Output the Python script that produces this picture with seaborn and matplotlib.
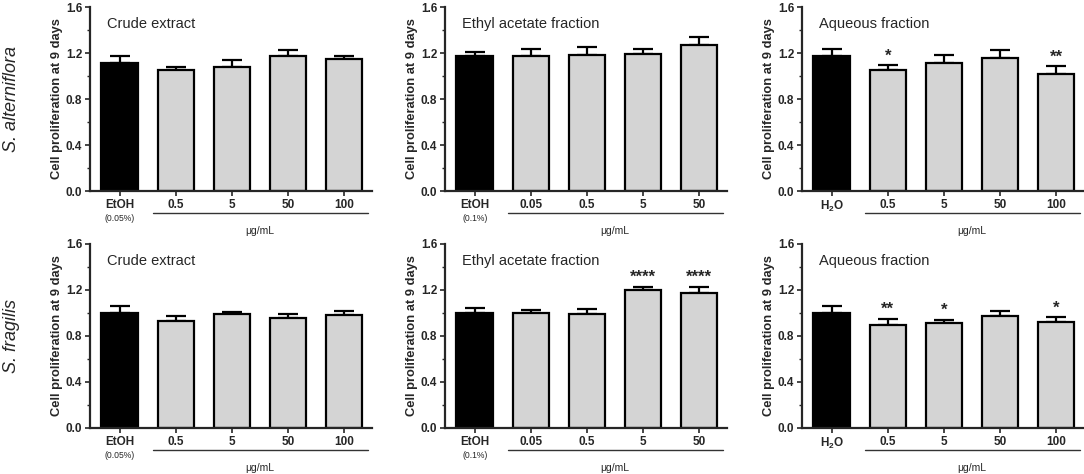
import numpy as np
import pandas as pd
import seaborn as sns
import matplotlib.pyplot as plt
from matplotlib.ticker import MultipleLocator
from matplotlib.transforms import blended_transform_factory

# --- data (mean, SD) ---
species = ["S. alterniflora", "S. fragilis"]
fractions = ["Crude extract", "Ethyl acetate fraction", "Aqueous fraction"]
controls = ["EtOH", "EtOH", "H$_\\mathbf{2}$O"]
control_notes = ["(0.05%)", "(0.1%)", ""]
doses_crude = ["0.5", "5", "50", "100"]
doses_ethyl = ["0.05", "0.5", "5", "50"]
doses_aqueous = ["0.5", "5", "50", "100"]

alt_crude_mean = [1.11, 1.05, 1.08, 1.17, 1.15]
alt_crude_sd = [0.06, 0.025, 0.06, 0.055, 0.025]
alt_ethyl_mean = [1.17, 1.17, 1.18, 1.19, 1.27]
alt_ethyl_sd = [0.035, 0.065, 0.075, 0.045, 0.065]
alt_aqueous_mean = [1.17, 1.05, 1.11, 1.16, 1.02]
alt_aqueous_sd = [0.065, 0.045, 0.07, 0.065, 0.065]

fra_crude_mean = [1.00, 0.93, 0.995, 0.955, 0.98]
fra_crude_sd = [0.065, 0.04, 0.015, 0.04, 0.04]
fra_ethyl_mean = [1.00, 1.00, 0.99, 1.20, 1.175]
fra_ethyl_sd = [0.045, 0.03, 0.045, 0.03, 0.055]
fra_aqueous_mean = [1.00, 0.90, 0.915, 0.97, 0.925]
fra_aqueous_sd = [0.06, 0.05, 0.025, 0.045, 0.04]

alt_aqueous_stars = ["", "*", "", "", "**"]
fra_ethyl_stars = ["", "", "", "****", "****"]
fra_aqueous_stars = ["", "**", "*", "", "*"]
no_stars = ["", "", "", "", ""]

panels = [
    [(alt_crude_mean, alt_crude_sd, doses_crude, no_stars),
     (alt_ethyl_mean, alt_ethyl_sd, doses_ethyl, no_stars),
     (alt_aqueous_mean, alt_aqueous_sd, doses_aqueous, alt_aqueous_stars)],
    [(fra_crude_mean, fra_crude_sd, doses_crude, no_stars),
     (fra_ethyl_mean, fra_ethyl_sd, doses_ethyl, fra_ethyl_stars),
     (fra_aqueous_mean, fra_aqueous_sd, doses_aqueous, fra_aqueous_stars)],
]

sns.set_style("ticks")
plt.rcParams['font.family'] = ['Liberation Sans', 'DejaVu Sans']
plt.rcParams['mathtext.fontset'] = 'custom'
plt.rcParams['mathtext.rm'] = 'Liberation Sans'
plt.rcParams['mathtext.bf'] = 'Liberation Sans:bold'
plt.rcParams['mathtext.it'] = 'Liberation Sans:italic'

fig = plt.figure(figsize=(10.84, 4.74), dpi=100)
fig.patch.set_facecolor('white')

W, H = 1084, 474
lefts = [90, 445, 802]
tops = [7, 244]
ax_w, ax_h = 282, 184

for r in range(2):
    for c in range(3):
        mean, sd, doses, stars = panels[r][c]
        cats = [controls[c]] + doses
        df = pd.DataFrame({'group': cats, 'value': mean})
        colors = ['black'] + ['#d4d4d4'] * len(doses)

        ax = fig.add_axes([lefts[c] / W, 1 - (tops[r] + ax_h) / H, ax_w / W, ax_h / H])
        sns.barplot(data=df, x='group', y='value', hue='group', order=cats,
                    hue_order=cats, palette=colors, legend=False, ax=ax,
                    width=0.65, edgecolor='black', linewidth=1.6, errorbar=None)
        x = np.arange(len(cats))
        ax.errorbar(x, mean, yerr=[np.zeros(len(sd)), sd], fmt='none',
                    ecolor='black', elinewidth=1.6, capsize=7, capthick=1.6, zorder=1)
        for p in ax.patches:
            p.set_zorder(2)

        # stars
        for i, s in enumerate(stars):
            if s:
                ax.text(i, mean[i] + sd[i] + 0.015, s, ha='center', va='bottom',
                        fontsize=12, fontweight='bold')

        ax.set_xlim(-0.53, 4.5)
        ax.set_ylim(0, 1.6)
        ax.yaxis.set_minor_locator(MultipleLocator(0.2))
        ax.set_yticks([0, 0.4, 0.8, 1.2, 1.6], ['0.0', '0.4', '0.8', '1.2', '1.6'])
        ax.set_xticks(x, cats)
        for lab in ax.get_xticklabels():
            lab.set_fontweight('bold')
            lab.set_fontsize(8.5)
        for lab in ax.get_yticklabels():
            lab.set_fontweight('bold')
            lab.set_fontsize(8.5)
        ax.tick_params(axis='both', which='major', length=3.5, width=1.2, pad=2)
        ax.tick_params(axis='y', which='minor', length=2, width=1.0)
        ax.set_xlabel('')
        ax.set_ylabel('Cell proliferation at 9 days', fontsize=9.3, fontweight='bold')
        ax.yaxis.set_label_coords(-0.095, 0.5)
        sns.despine(ax=ax)
        for sp in ['left', 'bottom']:
            ax.spines[sp].set_linewidth(1.6)

        ax.text(0.06, 0.905, fractions[c], transform=ax.transAxes,
                fontsize=10.5, ha='left', va='center')

        trans = blended_transform_factory(ax.transData, ax.transAxes)
        ax.plot([0.6, 4.42], [-0.12, -0.12], transform=trans, color='#333333',
                linewidth=1.0, clip_on=False)
        ax.text(2.5, -0.215, 'μg/mL', transform=trans, ha='center', va='center', fontsize=7.5)
        if control_notes[c]:
            ax.text(0, -0.15, control_notes[c], transform=trans, ha='center',
                    va='center', fontsize=6.2)

    fig.text(12 / W, 1 - (tops[r] + ax_h / 2) / H, species[r], rotation=90,
             ha='center', va='center', fontsize=13, fontstyle='italic')

fig.savefig('out.png', dpi=100, facecolor='white')
